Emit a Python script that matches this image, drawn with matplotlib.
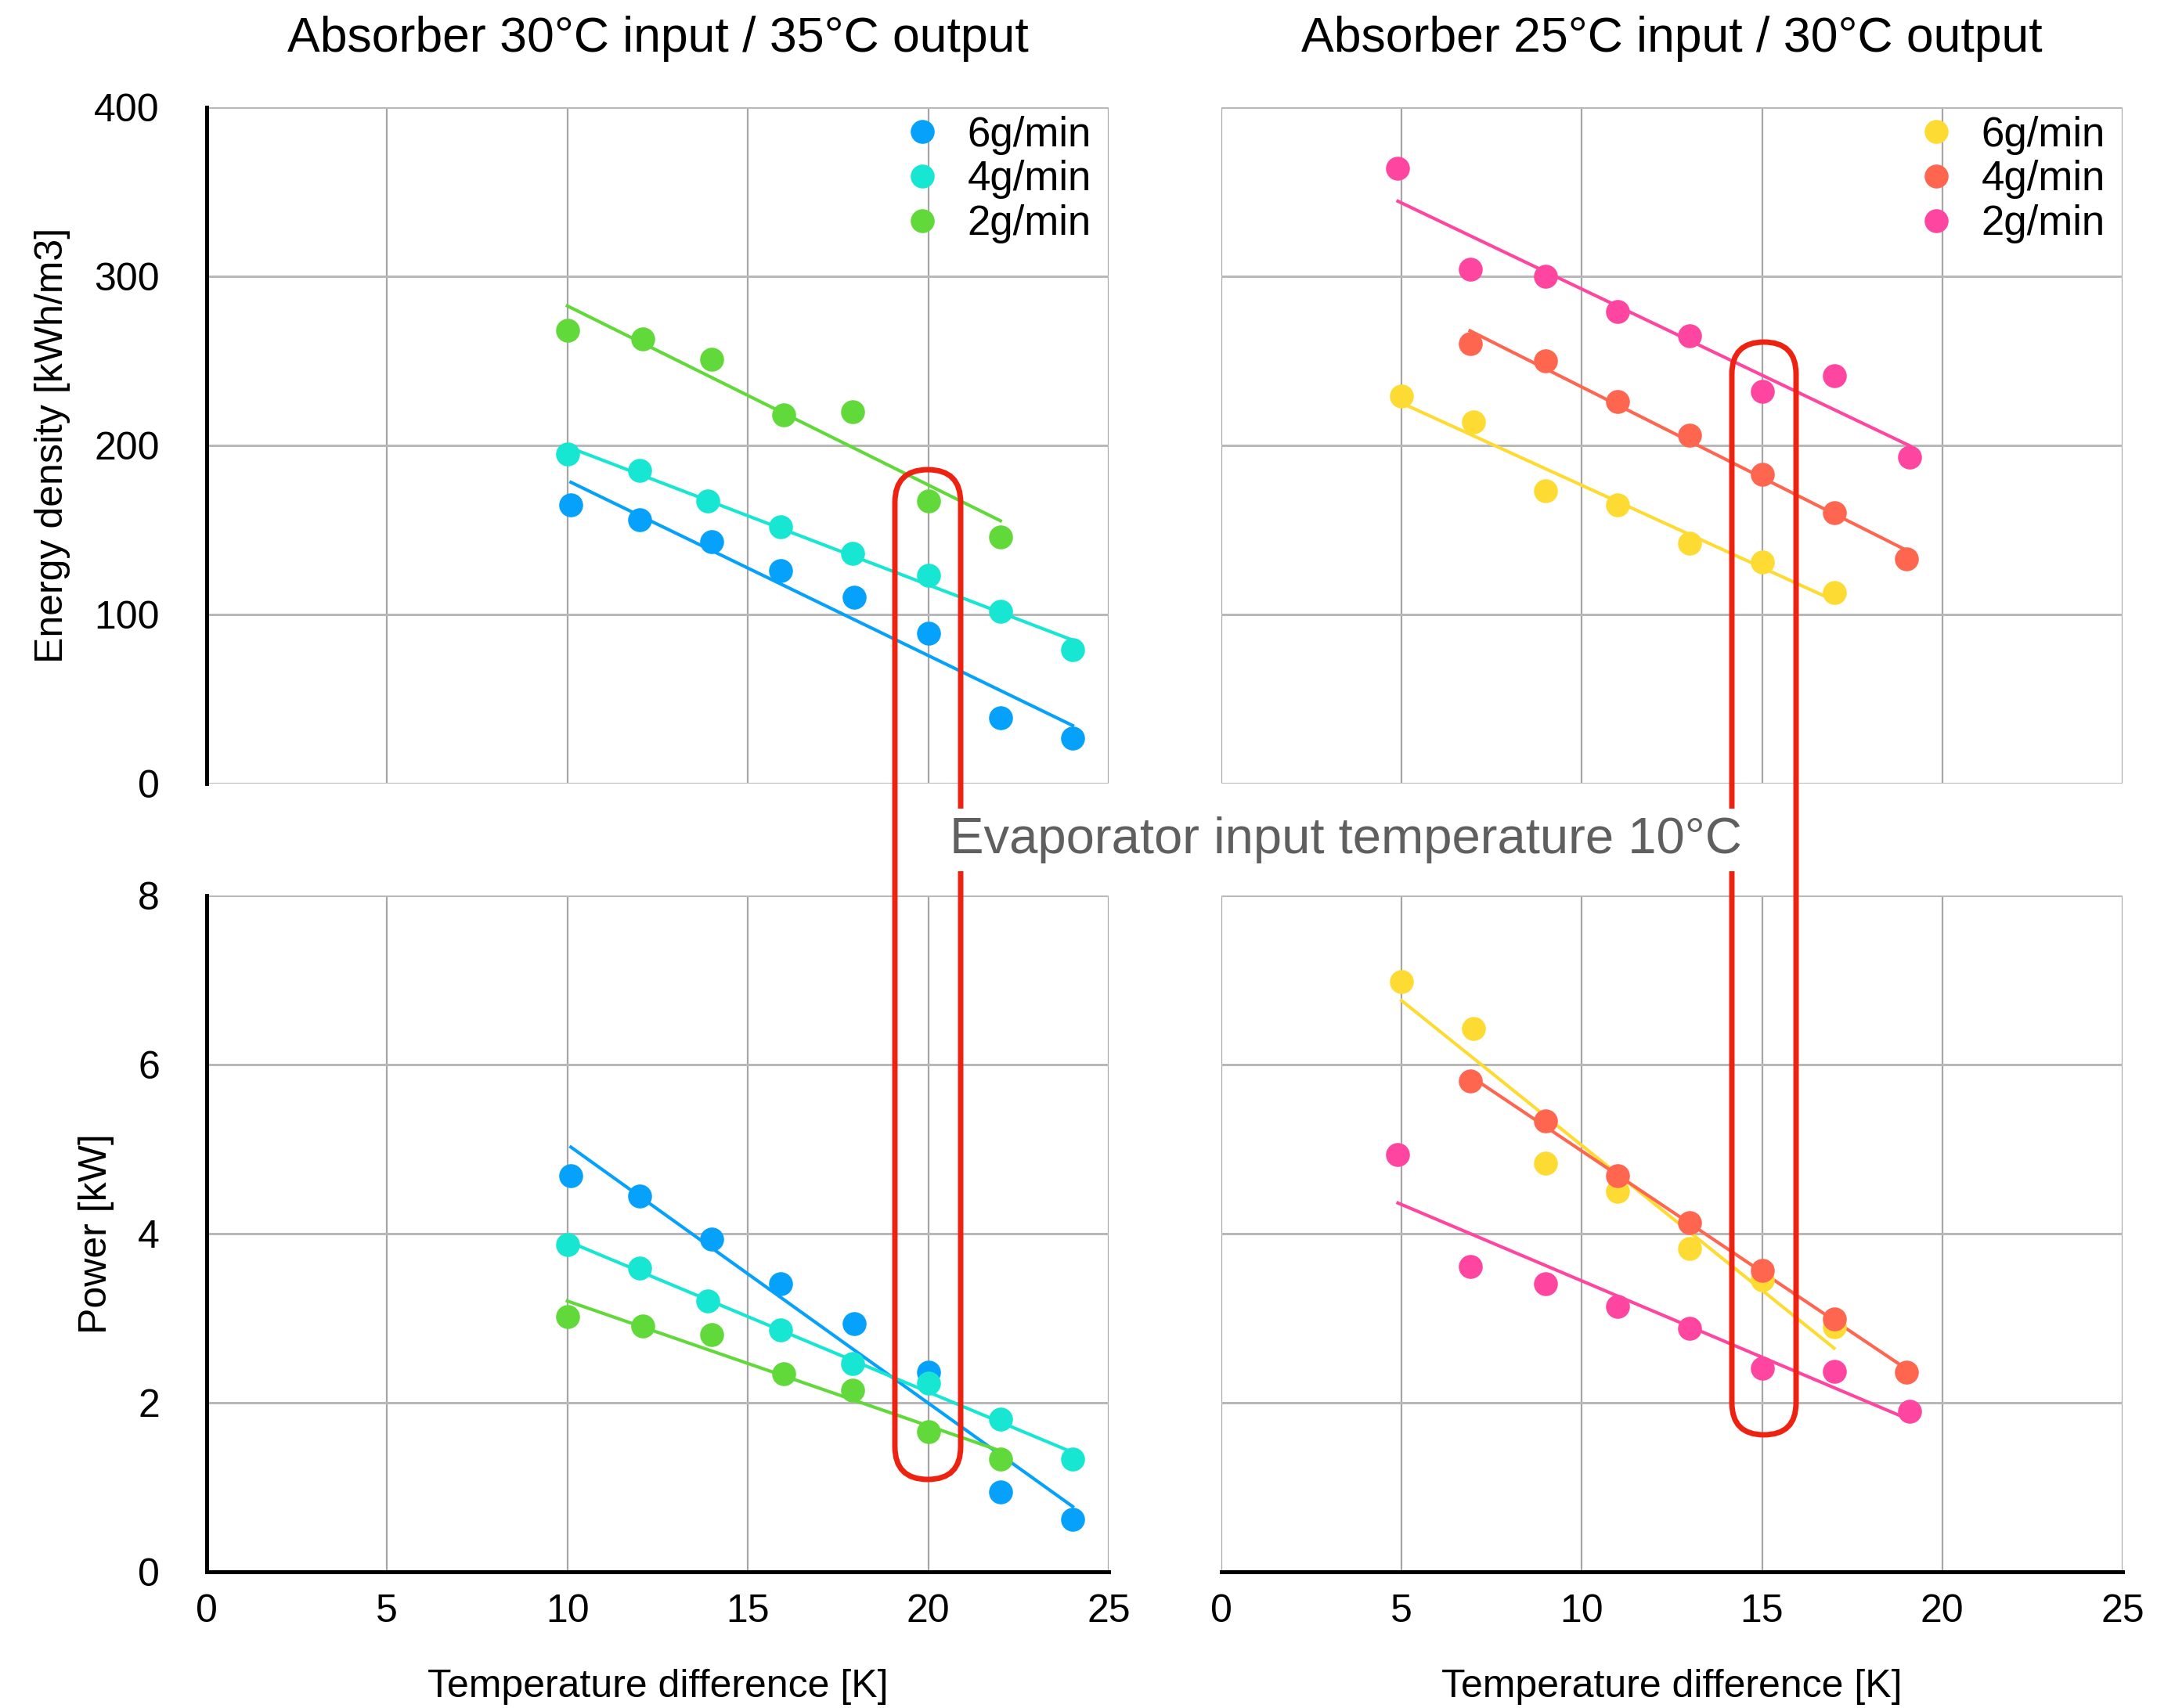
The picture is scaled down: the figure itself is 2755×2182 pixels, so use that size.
import numpy as np
import matplotlib.pyplot as plt
from matplotlib.patches import FancyBboxPatch

plt.rcParams['font.family'] = ['Liberation Sans', 'DejaVu Sans']

labels = ['6g/min', '4g/min', '2g/min']
left_colors = ['#05a1fa', '#17e6d3', '#62d93a']
right_colors = ['#fedb33', '#fe6650', '#fe46a0']

# Absorber 30°C input / 35°C output
left_x = [[10.1, 12, 14, 15.9, 17.95, 20, 22, 24],
          [10, 12, 13.9, 15.9, 17.9, 20, 22, 24],
          [10, 12.1, 14, 16, 17.9, 20, 22]]
left_energy = [[165, 156, 143, 126, 110, 89, 39, 27],
               [195, 185, 167, 152, 136, 123, 102, 79],
               [268, 263, 251, 218, 220, 167, 146]]
left_power = [[4.68, 4.44, 3.93, 3.41, 2.93, 2.36, 0.94, 0.62],
              [3.87, 3.59, 3.20, 2.86, 2.46, 2.23, 1.80, 1.33],
              [3.02, 2.91, 2.80, 2.34, 2.15, 1.66, 1.33]]

# Absorber 25°C input / 30°C output
right_x = [[5, 7, 9, 11, 13, 15, 17],
           [6.9, 9, 11, 13, 15, 17, 19],
           [4.9, 6.9, 9, 11, 13, 15, 17, 19.1]]
right_energy = [[229, 214, 173, 165, 142, 131, 113],
                [260, 250, 226, 206, 183, 160, 133],
                [364, 304, 300, 279, 265, 232, 241, 193]]
right_power = [[6.98, 6.42, 4.83, 4.50, 3.82, 3.45, 2.90],
               [5.80, 5.33, 4.68, 4.13, 3.56, 2.99, 2.36],
               [4.93, 3.61, 3.41, 3.14, 2.88, 2.41, 2.37, 1.90]]

W, H = 2755, 2182
fig = plt.figure(figsize=(W / 100, H / 100), dpi=100, facecolor='white')

ax_tl = fig.add_axes([0.0957, 0.5412, 0.4183, 0.3960])
ax_tr = fig.add_axes([0.5662, 0.5412, 0.4178, 0.3960])
ax_bl = fig.add_axes([0.0957, 0.0798, 0.4183, 0.3960])
ax_br = fig.add_axes([0.5662, 0.0798, 0.4178, 0.3960])


def panel(ax, xs, ys, colors, ymax, ystep):
    for x, y, c, lab in zip(xs, ys, colors, labels):
        k, b = np.polyfit(x, y, 1)
        xe = np.array([x[0], x[-1]])
        ax.plot(xe, k * xe + b, color=c, lw=3.0, zorder=3)
        ax.plot(x, y, 'o', color=c, ms=22, mec='none', label=lab, zorder=4)
    ax.set_xlim(0, 25)
    ax.set_ylim(0, ymax)
    ax.set_xticks(range(0, 26, 5))
    ax.set_yticks(np.arange(0, ymax + 1, ystep))
    ax.grid(axis='x', color='#a6a6a6', lw=1.6)
    ax.grid(axis='y', color='#b8b8b8', lw=2.2)
    ax.set_axisbelow(True)
    ax.tick_params(length=0, labelsize=36)
    ax.tick_params(axis='y', pad=43)
    ax.tick_params(axis='x', pad=20)
    for s in ax.spines.values():
        s.set_visible(False)


panel(ax_tl, left_x, left_energy, left_colors, 400, 100)
panel(ax_tr, right_x, right_energy, right_colors, 400, 100)
panel(ax_bl, left_x, left_power, left_colors, 8, 2)
panel(ax_br, right_x, right_power, right_colors, 8, 2)

for ax in (ax_tl, ax_tr):
    ax.tick_params(labelbottom=False)
    ax.legend(loc='upper right', frameon=False, fontsize=38, handlelength=1.0,
              handletextpad=0.6, labelspacing=0.13, borderaxespad=0.1,
              borderpad=0.1, bbox_to_anchor=(0.99, 1.0))
for ax in (ax_tr, ax_br):
    ax.tick_params(labelleft=False)

for ax in (ax_tl, ax_bl):
    ax.spines['left'].set_visible(True)
    ax.spines['left'].set_color('black')
    ax.spines['left'].set_linewidth(3.6)
for ax in (ax_bl, ax_br):
    ax.spines['bottom'].set_visible(True)
    ax.spines['bottom'].set_color('black')
    ax.spines['bottom'].set_linewidth(3.6)
    ax.set_xlabel('Temperature difference [K]', fontsize=36, labelpad=36)

ax_tl.set_ylabel('Energy density [kWh/m3]', fontsize=36, labelpad=22)
ax_bl.set_ylabel('Power [kW]', fontsize=36, labelpad=22)

fig.text(0.3049, 0.9775, 'Absorber 30°C input / 35°C output', fontsize=45,
         ha='center', va='center')
fig.text(0.7751, 0.9775, 'Absorber 25°C input / 30°C output', fontsize=45,
         ha='center', va='center')

# overlay in pixel coordinates for the highlight shapes
ov = fig.add_axes([0, 0, 1, 1], zorder=10)
ov.set_xlim(0, W)
ov.set_ylim(H, 0)
ov.axis('off')
ov.patch.set_alpha(0)

for x0, x1, y0, y1 in [(1143, 1227, 600, 1890), (2212, 2294, 437, 1833)]:
    w = x1 - x0
    ov.add_patch(FancyBboxPatch((x0, y0), w, y1 - y0,
                                boxstyle='round,pad=0,rounding_size=%f' % (w / 2),
                                fill=False, ec='#ee2211', lw=5))

ov.text(1719, 1073, 'Evaporator input temperature 10°C', fontsize=47,
        color='#5f5f5f', ha='center', va='center',
        bbox=dict(boxstyle='square,pad=0.15', fc='white', ec='none'))

fig.savefig('out.png', dpi=100, facecolor='white')
